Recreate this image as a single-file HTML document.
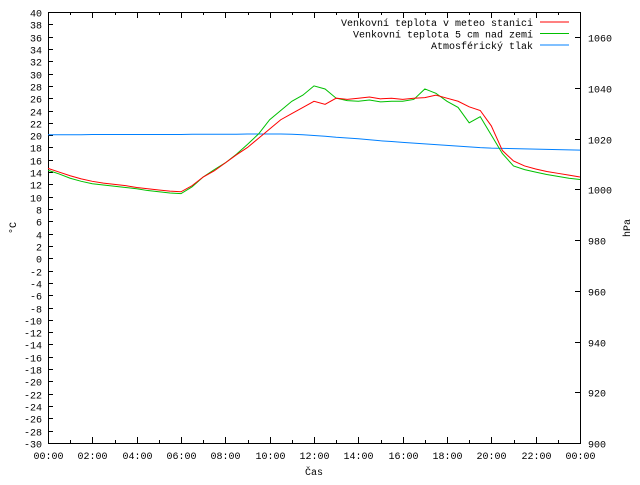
<!DOCTYPE html>
<html><head><meta charset="utf-8"><style>
body{margin:0;background:#fff}
svg text{font-family:"Liberation Mono",monospace;font-size:10px;fill:#000}
</style></head><body>
<svg id="c" width="640" height="480" xmlns="http://www.w3.org/2000/svg"></svg>
<script>
const hours=[0,0.5,1,1.5,2,2.5,3,3.5,4,4.5,5,5.5,6,6.5,7,7.5,8,8.5,9,9.5,10,10.5,11,11.5,12,12.5,13,13.5,14,14.5,15,15.5,16,16.5,17,17.5,18,18.5,19,19.5,20,20.5,21,21.5,22,22.5,23,23.5,24];
const tempMeteo=[14.6,14.0,13.4,12.9,12.5,12.2,12.0,11.8,11.5,11.3,11.1,10.9,10.8,11.8,13.2,14.2,15.5,16.8,18.0,19.5,21.0,22.5,23.5,24.5,25.5,25.0,26.0,25.8,26.0,26.2,25.9,26.0,25.8,26.0,26.1,26.5,26.0,25.5,24.6,24.0,21.5,17.5,15.8,15.0,14.5,14.1,13.8,13.5,13.2];
const temp5cm=[14.3,13.7,13.0,12.5,12.1,11.9,11.7,11.5,11.3,11.0,10.8,10.6,10.5,11.6,13.2,14.4,15.5,16.9,18.5,20.2,22.5,24.0,25.5,26.5,28.0,27.5,26.0,25.6,25.5,25.7,25.4,25.5,25.5,25.8,27.5,26.8,25.5,24.5,22.0,23.0,20.0,17.0,15.0,14.4,14.0,13.6,13.3,13.0,12.8];
const pressure=[1021.6,1021.6,1021.6,1021.6,1021.7,1021.7,1021.7,1021.7,1021.7,1021.7,1021.7,1021.7,1021.7,1021.8,1021.8,1021.8,1021.8,1021.8,1021.9,1021.9,1021.9,1021.9,1021.8,1021.6,1021.3,1021.0,1020.6,1020.3,1020.0,1019.6,1019.2,1018.9,1018.6,1018.3,1018.0,1017.7,1017.4,1017.1,1016.8,1016.5,1016.3,1016.2,1016.1,1016.0,1015.9,1015.8,1015.7,1015.6,1015.5];
const yTicks=[];for(let v=-30;v<=40;v+=2)yTicks.push(v);
const y2Ticks=[900,920,940,960,980,1000,1020,1040,1060];
const xTickLabels=["00:00","02:00","04:00","06:00","08:00","10:00","12:00","14:00","16:00","18:00","20:00","22:00","00:00"];
const L=48,R=580,T=12,B=443;
const X=h=>L+(R-L)*h/24, Y=v=>B-(B-T)*(v+30)/70, Y2=p=>B-(B-T)*(p-900)/170;
const svg=document.getElementById('c'),NS="http://www.w3.org/2000/svg";
function mk(t,a,name){const e=document.createElementNS(NS,t);for(const k in a)e.setAttribute(k,a[k]);


svg.appendChild(e);return e;}
mk('rect',{x:L+0.5,y:T+0.5,width:R-L,height:B-T,fill:'none',stroke:'#000','stroke-width':1,'shape-rendering':'crispEdges'},'plot-frame');
yTicks.forEach(v=>{const y=Math.round(Y(v))+0.5;
mk('line',{x1:L,x2:L+5,y1:y,y2:y,stroke:'#000'},'y-tick');
const t=mk('text',{x:L-6,y:y+4,'text-anchor':'end'},'y-tick-label');t.textContent=String(v);});
y2Ticks.forEach(v=>{const y=Math.round(Y2(v))+0.5;
mk('line',{x1:R-5,x2:R,y1:y,y2:y,stroke:'#000'},'y2-tick');
const t=mk('text',{x:R+8,y:y+4},'y2-tick-label');t.textContent=v;});
for(let h=0;h<=24;h++){const x=Math.round(X(h))+0.5,len=h%2?3:6;
mk('line',{x1:x,x2:x,y1:B,y2:B-len,stroke:'#000'},'x-tick');
mk('line',{x1:x,x2:x,y1:T,y2:T+len,stroke:'#000'},'x-tick-top');
if(h%2==0){const t=mk('text',{x:x,y:B+16,'text-anchor':'middle'},'x-tick-label');t.textContent=xTickLabels[h/2];}}
function line(arr,fy,col,name){mk('polyline',{points:arr.map((v,i)=>X(hours[i])+','+fy(v)).join(' '),fill:'none',stroke:col,'stroke-width':1},name);}
line(pressure,Y2,'#0080ff','series-pressure');
line(temp5cm,Y,'#00c000','series-temp-5cm');
line(tempMeteo,Y,'#ff0000','series-temp-meteo');
const leg=[["Venkovní teplota v meteo stanici","#ff0000"],["Venkovní teplota 5 cm nad zemí","#00c000"],["Atmosférický tlak","#0080ff"]];
leg.forEach((l,i)=>{const y=22+i*11.5;
const t=mk('text',{x:533,y:y+4,'text-anchor':'end'},'legend-label');t.textContent=l[0];
mk('line',{x1:540,x2:569,y1:y,y2:y,stroke:l[1],'stroke-width':1},'legend-swatch');});
let t=mk('text',{x:314,y:475,'text-anchor':'middle'},'x-axis-title');t.textContent="Čas";
t=mk('text',{x:16,y:228,'text-anchor':'middle',transform:'rotate(-90 16 228)'},'y-axis-title');t.textContent="°C";
t=mk('text',{x:630,y:228,'text-anchor':'middle',transform:'rotate(-90 630 228)'},'y2-axis-title');t.textContent="hPa";
</script>
</body></html>
